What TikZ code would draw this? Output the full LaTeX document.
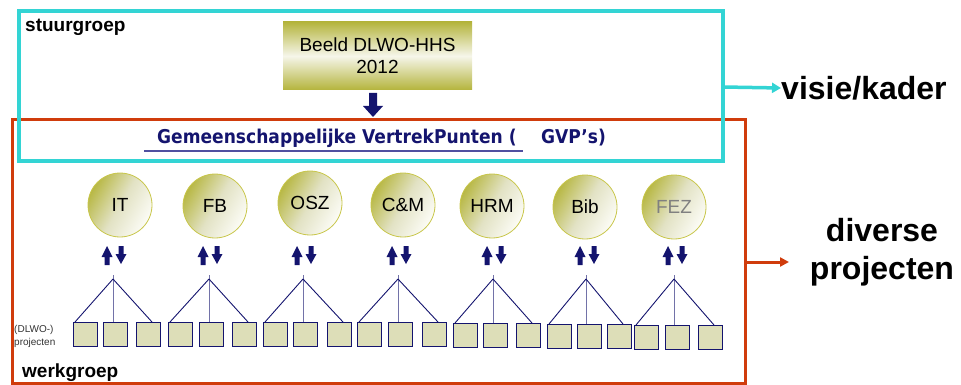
\documentclass[tikz,border=0pt]{standalone}
\usepackage{fontspec}
\setmainfont{Liberation Sans}
\newfontfamily\gvpfont{DejaVu Sans}
\usetikzlibrary{arrows.meta}
\definecolor{cyanbox}{HTML}{33D4D4}
\definecolor{redbox}{HTML}{D03C0C}
\definecolor{navy}{HTML}{14146E}
\definecolor{olive}{HTML}{B4B43C}
\definecolor{circolive}{HTML}{B8B845}
\definecolor{circmid}{HTML}{E2E2C4}
\definecolor{olivelight}{HTML}{F6F6EA}
\definecolor{circlight}{HTML}{FCFCF6}
\definecolor{circborder}{HTML}{C8C64A}
\definecolor{boxfill}{HTML}{DDDEB8}
\definecolor{ulcol}{HTML}{5050A0}
\tikzset{
  cyanframe/.style={draw=cyanbox, line width=3.5pt},
  redframe/.style={draw=redbox, line width=3pt},
  circ/.style={circle, minimum size=64pt, inner sep=0pt, draw=circborder, line width=0.8pt,
    shading=axis, top color=circolive, bottom color=circlight, middle color=circmid, shading angle=60,
    font=\fontsize{19}{21}\selectfont},
  pbox/.style={rectangle, minimum size=24pt, inner sep=0pt, draw=navy, line width=1.3pt, fill=boxfill},
  treeline/.style={draw=navy, line width=0.9pt},
  midline/.style={draw=navy!60, line width=1pt},
  grouplabel/.style={font=\bfseries\fontsize{19}{21}\selectfont, anchor=west, inner sep=0pt},
  uparr/.pic={\fill[navy] (0,0) -- (5.5,11) -- (2.5,11) -- (2.5,19) -- (-2.5,19) -- (-2.5,11) -- (-5.5,11) -- cycle;},
  downarr/.pic={\fill[navy] (-2.5,0) -- (2.5,0) -- (2.5,8) -- (5.5,8) -- (0,18) -- (-5.5,8) -- (-2.5,8) -- cycle;},
}
\begin{document}
\begin{tikzpicture}[x=1pt,y=-1pt]
\useasboundingbox (0,0) rectangle (961,385);
% frames
\draw[redframe] (12,120) rectangle (745,383);
\draw[cyanframe] (19,11) rectangle (723,161);
\node[grouplabel] (stuur) at (25,27) {stuurgroep};
\node[grouplabel] (werk) at (22,373) {werkgroep};
% Beeld box
\node[rectangle, minimum width=189pt, minimum height=68pt, inner sep=0pt,
  top color=olive, bottom color=olive, middle color=olivelight, align=center,
  font=\fontsize{19}{22}\selectfont] (beeld) at (377.5,56) {Beeld DLWO-HHS\\2012};
\fill[navy] (369,93) -- (377,93) -- (377,106) -- (383,106) -- (373,117) -- (363,106) -- (369,106) -- cycle;
% GVP
\node[anchor=west, inner sep=0pt, text=navy, font=\gvpfont\bfseries\fontsize{19}{22}\selectfont, xscale=0.9] (gvp) at (157,138) {Gemeenschappelijke VertrekPunten (};
\node[anchor=west, inner sep=0pt, text=navy, font=\gvpfont\bfseries\fontsize{19}{22}\selectfont, xscale=0.9] (gvp2) at (541,138) {GVP’s)};
\draw[ulcol, line width=1.2pt] (144,151) -- (523,151);
% side labels
\node[anchor=west, inner sep=0pt, font=\bfseries\fontsize{32}{36}\selectfont] (visie) at (781,88) {visie/kader};
\coordinate (cyR) at (723,87);
\draw[cyanbox, line width=3.5pt, -{Triangle[length=9pt,width=10pt]}] (cyR) -- (visie.west);
\node[align=center, inner sep=0pt, font=\bfseries\fontsize{32}{38}\selectfont] (div) at (882,252) {diverse\\projecten};
\coordinate (rdR) at (745,262);
\coordinate (rdE) at (789,262);
\draw[redbox, line width=3pt, -{Triangle[length=9pt,width=9pt]}] (rdR) -- (rdE);
% small label
\node[align=left, inner sep=0pt, anchor=west, text=black!80, font=\fontsize{10}{13}\selectfont] (dlwo) at (14,336) {(DLWO-)\\projecten};
% groups
\foreach \i/\lab/\col/\cx/\cy/\ta/\bl/\bm/\br/\by in {
  1/IT/black/120/205/113/73/103/136/322,
  2/FB/black/215/206/209/168/199/232/322,
  3/OSZ/black/310/203/303/263/293/327/322,
  4/C\&M/black/403/205/398/357/388/422/322,
  5/HRM/black/492/206/493/453/483/516/323,
  6/Bib/black/585/207/586/547/577/607/324,
  7/FEZ/black!50/674/207/674/634/665/698/325} {
  \node[circ, text=\col] (c\i) at (\cx,\cy) {\lab};
  \pic at (\ta-6,246) {uparr};
  \pic at (\ta+8,246) {downarr};
  \node[pbox, anchor=north west] (b\i a) at (\bl,\by) {};
  \node[pbox, anchor=north west] (b\i b) at (\bm,\by) {};
  \node[pbox, anchor=north west] (b\i c) at (\br,\by) {};
  \coordinate (t\i) at (\ta,279);
  \coordinate (tt\i) at (\ta,275);
  \draw[midline] (tt\i) -- (t\i |- b\i b.north);
  \draw[treeline] (t\i) -- ([xshift=2pt]b\i a.north west);
  \draw[treeline] (t\i) -- ([xshift=16pt]b\i c.north west);
}
\end{tikzpicture}
\end{document}
